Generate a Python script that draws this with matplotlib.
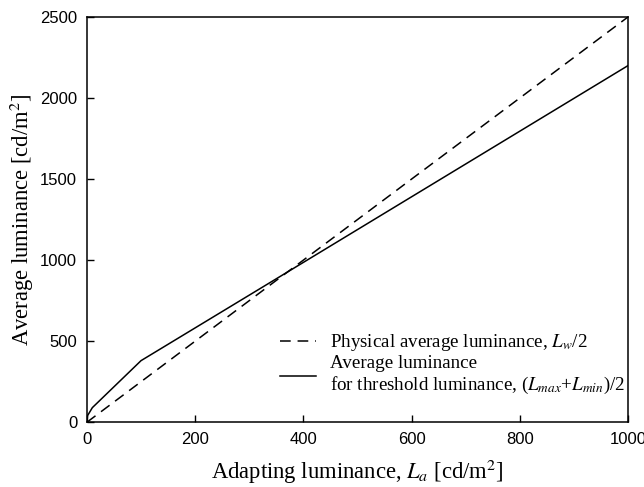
import numpy as np
import matplotlib
matplotlib.use("Agg")
import matplotlib.pyplot as plt

plt.rcParams["mathtext.fontset"] = "stix"

# data
la_phys = [0, 1000]
lavg_phys = [0, 2500]

la_thr = [0, 1, 10, 100, 400, 700, 1000]
lavg_thr = [0, 40, 90, 380, 986, 1593, 2200]

fig = plt.figure(figsize=(6.44, 4.87), dpi=100)
ax = fig.add_axes([0.135, 0.133, 0.840, 0.832])

ax.plot(la_phys, lavg_phys, color="black", lw=1.1, ls=(0, (7, 4.5)),
        label=r"Physical average luminance, $L_w$/2")
ax.plot(la_thr, lavg_thr, color="black", lw=1.1,
        label="Average luminance\nfor threshold luminance, ($L_{max}$+$L_{min}$)/2")

ax.set_xlim(0, 1000)
ax.set_ylim(0, 2500)
ax.set_xticks(np.arange(0, 1001, 200))
ax.set_yticks(np.arange(0, 2501, 500))
ax.tick_params(direction="in", length=5, width=1, labelsize=12, pad=7)
for lab in ax.get_xticklabels() + ax.get_yticklabels():
    lab.set_family("Liberation Sans")
for s in ax.spines.values():
    s.set_linewidth(1.1)

ax.set_xlabel(r"Adapting luminance, $L_a$ [cd/m$^2$]", family="Liberation Serif",
              fontsize=16.3, labelpad=8)
ax.set_ylabel(r"Average luminance [cd/m$^2$]", family="Liberation Serif",
              fontsize=16.3, labelpad=3)

leg = ax.legend(loc="lower right", bbox_to_anchor=(1.01, 0.045), frameon=False,
                prop={"family": "Liberation Serif", "size": 13.7},
                handlelength=1.9, handletextpad=0.74, labelspacing=0.1,
                borderaxespad=0)

fig.savefig("out.png", dpi=100)
